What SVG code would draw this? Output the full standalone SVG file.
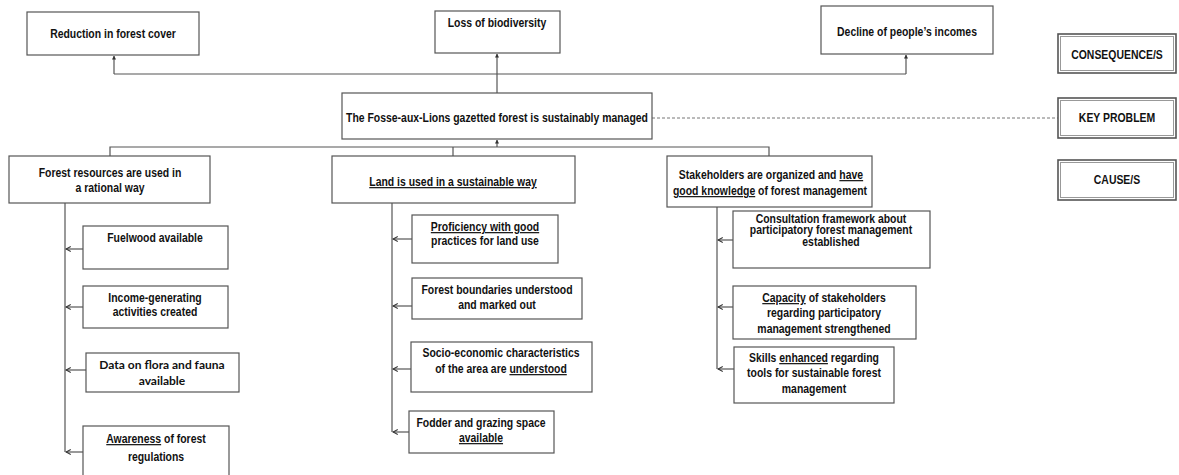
<svg xmlns="http://www.w3.org/2000/svg" width="1179" height="475" viewBox="0 0 1179 475">
<style>
.box{fill:#fff;stroke:#555;stroke-width:1.2}
.lbl{fill:#fff;stroke:#555;stroke-width:1.6}
.lbli{fill:none;stroke:#999;stroke-width:1}
.t{font-family:"Liberation Sans",Arial,sans-serif;font-weight:bold;font-size:12px;fill:#111;text-anchor:middle}
.tc{font-family:Lato,"Open Sans",sans-serif;font-weight:bold;font-size:12px;fill:#111;text-anchor:middle}
.u{text-decoration:underline}
.ln{fill:none;stroke:#555;stroke-width:1.2}
.la{fill:none;stroke:#555;stroke-width:1.2;marker-end:url(#chev)}
.lu{fill:none;stroke:#555;stroke-width:1.2;marker-end:url(#tri)}
.dash{fill:none;stroke:#777;stroke-width:1;stroke-dasharray:3 2}
</style>
<defs>
<marker id="chev" viewBox="0 0 10 10" refX="9" refY="5" markerWidth="6" markerHeight="6" markerUnits="userSpaceOnUse" orient="auto">
<path d="M1,1 L9,5 L1,9" fill="none" stroke="#333" stroke-width="1.8"/>
</marker>
<marker id="tri" viewBox="0 0 10 10" refX="9" refY="5" markerWidth="4" markerHeight="4" markerUnits="userSpaceOnUse" orient="auto">
<path d="M0,0 L10,5 L0,10 z" fill="#333"/>
</marker>
</defs>

<g id="connectors">
<path class="lu" d="M114,74 L114,56"/>
<path class="ln" d="M114,74 L906,74"/>
<path class="lu" d="M906,74 L906,55"/>
<path class="lu" d="M497,93 L497,54"/>
<path class="dash" d="M652,118 L1058,118"/>
<path class="lu" d="M497,147 L497,140"/>
<path class="ln" d="M110,156 L110,147 L769,147 L769,156"/>
<path class="ln" d="M453,147 L453,156"/>
<path class="ln" d="M65,203 L65,452"/>
<path class="la" d="M83,249 L66,249"/>
<path class="la" d="M83,307 L66,307"/>
<path class="la" d="M86,370 L66,370"/>
<path class="la" d="M83,452 L66,452"/>
<path class="ln" d="M392,203 L392,432"/>
<path class="la" d="M412,239 L393,239"/>
<path class="la" d="M412,306 L393,306"/>
<path class="la" d="M411,369 L393,369"/>
<path class="la" d="M409,432 L393,432"/>
<path class="ln" d="M717,207 L717,369"/>
<path class="la" d="M733,240 L718,240"/>
<path class="la" d="M733,307 L718,307"/>
<path class="la" d="M734,369 L718,369"/>
</g>

<g id="n-reduction"><rect class="box" x="27" y="12" width="172" height="43"/><text class="t" x="0" y="38" transform="translate(113 0) scale(.87 1)">Reduction in forest cover</text></g>
<g id="n-loss"><rect class="box" x="435" y="11" width="125" height="42"/><text class="t" x="0" y="27" transform="translate(497 0) scale(.87 1)">Loss of biodiversity</text></g>
<g id="n-decline"><rect class="box" x="821" y="6" width="172" height="48"/><text class="t" x="0" y="36" transform="translate(907 0) scale(.87 1)">Decline of people’s incomes</text></g>

<g id="n-key"><rect class="box" x="342" y="93" width="310" height="46"/><text class="t" x="0" y="122" transform="translate(497 0) scale(.87 1)">The Fosse-aux-Lions gazetted forest is sustainably managed</text></g>

<g id="n-forest"><rect class="box" x="9" y="156" width="201" height="47"/><text class="t" x="0" y="177" transform="translate(110 0) scale(.87 1)">Forest resources are used in</text><text class="t" x="0" y="192" transform="translate(110 0) scale(.87 1)">a rational way</text></g>
<g id="n-land"><rect class="box" x="332" y="156" width="243" height="47"/><text class="t u" x="0" y="186" transform="translate(453 0) scale(.87 1)">Land is used in a sustainable way</text></g>
<g id="n-stake"><rect class="box" x="667" y="156" width="205" height="51"/><text class="t" x="0" y="179" transform="translate(771 0) scale(.87 1)">Stakeholders are organized and <tspan class="u">have</tspan></text><text class="t" x="0" y="195" transform="translate(770 0) scale(.87 1)"><tspan class="u">good knowledge</tspan> of forest management</text></g>

<g id="n-fuel"><rect class="box" x="83" y="226" width="145" height="43"/><text class="t" x="0" y="242" transform="translate(155 0) scale(.87 1)">Fuelwood available</text></g>
<g id="n-income"><rect class="box" x="83" y="286" width="145" height="42"/><text class="t" x="0" y="302" transform="translate(155 0) scale(.87 1)">Income-generating</text><text class="t" x="0" y="316" transform="translate(155 0) scale(.87 1)">activities created</text></g>
<g id="n-data"><rect class="box" x="86" y="353" width="153" height="39"/><text class="tc" x="162" y="369">Data on flora and fauna</text><text class="tc" x="162" y="385">available</text></g>
<g id="n-aware"><rect class="box" x="83" y="426" width="146" height="52"/><text class="t" x="0" y="443" transform="translate(156 0) scale(.87 1)"><tspan class="u">Awareness</tspan> of forest</text><text class="t" x="0" y="461" transform="translate(156 0) scale(.87 1)">regulations</text></g>

<g id="n-prof"><rect class="box" x="412" y="215" width="146" height="48"/><text class="t" x="0" y="231" transform="translate(485 0) scale(.87 1)"><tspan class="u">Proficiency with good</tspan></text><text class="t" x="0" y="245" transform="translate(485 0) scale(.87 1)">practices for land use</text></g>
<g id="n-bound"><rect class="box" x="412" y="278" width="170" height="41"/><text class="t" x="0" y="294" transform="translate(497 0) scale(.87 1)">Forest boundaries understood</text><text class="t" x="0" y="309" transform="translate(497 0) scale(.87 1)">and marked out</text></g>
<g id="n-socio"><rect class="box" x="411" y="342" width="181" height="50"/><text class="t" x="0" y="357" transform="translate(501 0) scale(.87 1)">Socio-economic characteristics</text><text class="t" x="0" y="373" transform="translate(501 0) scale(.87 1)">of the area are <tspan class="u">understood</tspan></text></g>
<g id="n-fodder"><rect class="box" x="409" y="411" width="145" height="42"/><text class="t" x="0" y="427" transform="translate(481 0) scale(.87 1)">Fodder and grazing space</text><text class="t" x="0" y="442" transform="translate(481 0) scale(.87 1)"><tspan class="u">available</tspan></text></g>

<g id="n-consult"><rect class="box" x="733" y="211" width="197" height="57"/><text class="t" x="0" y="223" transform="translate(831 0) scale(.87 1)">Consultation framework about</text><text class="t" x="0" y="234" transform="translate(831 0) scale(.87 1)">participatory forest management</text><text class="t" x="0" y="246" transform="translate(831 0) scale(.87 1)">established</text></g>
<g id="n-capacity"><rect class="box" x="733" y="286" width="183" height="53"/><text class="t" x="0" y="302" transform="translate(824 0) scale(.87 1)"><tspan class="u">Capacity</tspan> of stakeholders</text><text class="t" x="0" y="317" transform="translate(824 0) scale(.87 1)">regarding participatory</text><text class="t" x="0" y="333" transform="translate(824 0) scale(.87 1)">management strengthened</text></g>
<g id="n-skills"><rect class="box" x="734" y="347" width="160" height="56"/><text class="t" x="0" y="362" transform="translate(814 0) scale(.87 1)">Skills <tspan class="u">enhanced</tspan> regarding</text><text class="t" x="0" y="377" transform="translate(814 0) scale(.87 1)">tools for sustainable forest</text><text class="t" x="0" y="393" transform="translate(814 0) scale(.87 1)">management</text></g>

<g id="n-consequence"><rect class="lbl" x="1058" y="34" width="118" height="39"/><rect class="lbli" x="1060.5" y="36.5" width="113" height="34"/><text class="t" x="0" y="59" transform="translate(1117 0) scale(.87 1)">CONSEQUENCE/S</text></g>
<g id="n-keyproblem"><rect class="lbl" x="1058" y="98" width="118" height="40"/><rect class="lbli" x="1060.5" y="100.5" width="113" height="35"/><text class="t" x="0" y="122" transform="translate(1117 0) scale(.87 1)">KEY PROBLEM</text></g>
<g id="n-cause"><rect class="lbl" x="1058" y="160" width="118" height="40"/><rect class="lbli" x="1060.5" y="162.5" width="113" height="35"/><text class="t" x="0" y="184" transform="translate(1117 0) scale(.87 1)">CAUSE/S</text></g>
</svg>
